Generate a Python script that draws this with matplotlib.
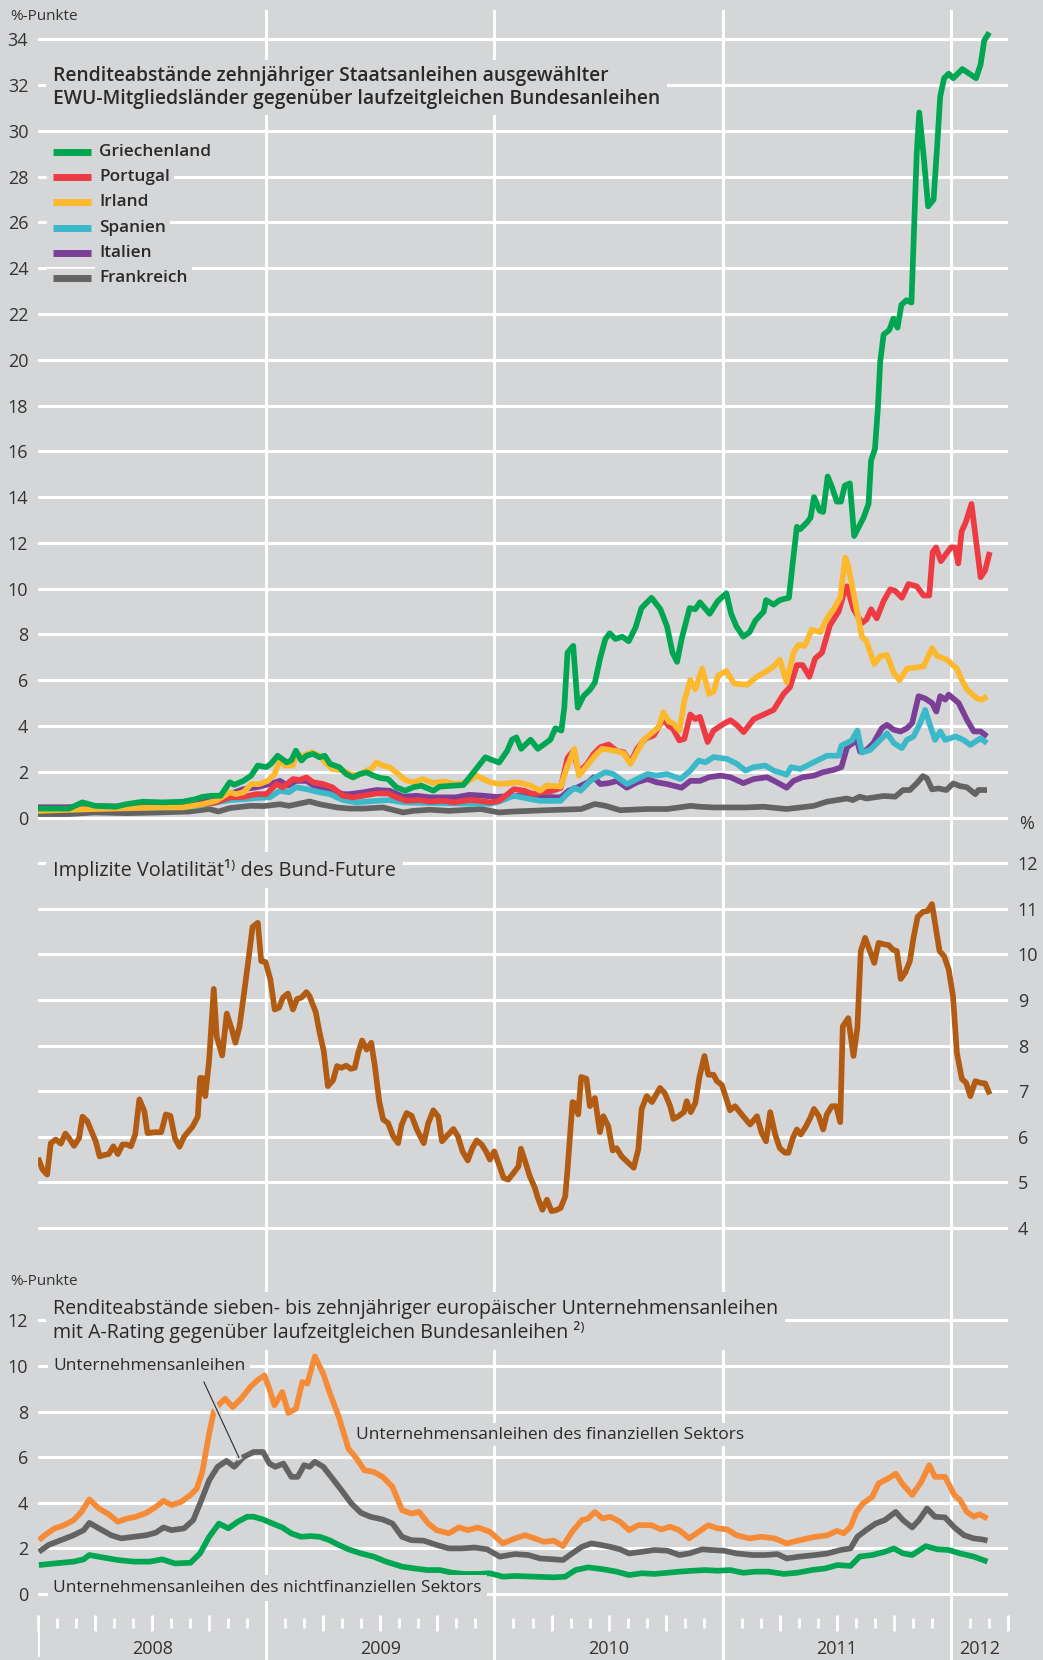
import numpy as np
import matplotlib.pyplot as plt

# ---------------- Daten ----------------
# Renditeabstaende 10j. Staatsanleihen ggü. Bundesanleihen, %-Punkte
gr_x = [2008.0, 2008.136, 2008.194, 2008.25, 2008.34, 2008.385, 2008.46, 2008.546, 2008.634, 2008.69, 2008.72,
        2008.76, 2008.80, 2008.84, 2008.86, 2008.9, 2008.934, 2008.963, 2009.0, 2009.02, 2009.05, 2009.09, 2009.11,
        2009.13, 2009.154, 2009.176, 2009.205, 2009.234, 2009.256, 2009.28, 2009.32, 2009.35, 2009.38, 2009.41,
        2009.44, 2009.47, 2009.498, 2009.534, 2009.57, 2009.608, 2009.644, 2009.68, 2009.732, 2009.76, 2009.82,
        2009.864, 2009.908, 2009.937, 2009.96, 2009.98, 2010.02, 2010.055, 2010.077, 2010.096, 2010.117, 2010.158,
        2010.19, 2010.245, 2010.267, 2010.293, 2010.306, 2010.32, 2010.345, 2010.365, 2010.39, 2010.42, 2010.44,
        2010.464, 2010.486, 2010.505, 2010.53, 2010.56, 2010.588, 2010.618, 2010.644, 2010.688, 2010.727, 2010.756,
        2010.78, 2010.80, 2010.82, 2010.855, 2010.88, 2010.90, 2010.943, 2010.978, 2011.016, 2011.037, 2011.06,
        2011.09, 2011.118, 2011.143, 2011.18, 2011.19, 2011.223, 2011.25, 2011.29, 2011.31, 2011.325, 2011.34,
        2011.37, 2011.385, 2011.40, 2011.425, 2011.44, 2011.46, 2011.48, 2011.50, 2011.518, 2011.535, 2011.557,
        2011.576, 2011.617, 2011.639, 2011.65, 2011.667, 2011.68, 2011.69, 2011.705, 2011.73, 2011.748, 2011.766,
        2011.783, 2011.805, 2011.827, 2011.84, 2011.85, 2011.861, 2011.88, 2011.90, 2011.924, 2011.94, 2011.953,
        2011.97, 2011.99, 2012.01, 2012.05, 2012.08, 2012.11, 2012.13, 2012.146, 2012.168]
gr_y = [0.39, 0.39, 0.66, 0.51, 0.47, 0.58, 0.69, 0.66, 0.69, 0.8, 0.9,
        0.95, 0.95, 1.54, 1.43, 1.6, 1.83, 2.27, 2.2, 2.34, 2.7, 2.41, 2.5,
        2.92, 2.49, 2.7, 2.78, 2.63, 2.7, 2.34, 2.2, 1.9, 1.75, 1.9,
        1.97, 1.83, 1.73, 1.68, 1.32, 1.17, 1.32, 1.39, 1.17, 1.35, 1.39,
        1.42, 1.97, 2.34, 2.63, 2.55, 2.4, 2.9, 3.4, 3.5, 3.0, 3.4,
        3.0, 3.4, 3.9, 3.8, 4.8, 7.2, 7.5, 4.8, 5.3, 5.6, 5.9,
        7.0, 7.8, 8.05, 7.8, 7.9, 7.7, 8.3, 9.15, 9.6, 9.1, 8.35,
        7.2, 6.8, 7.8, 9.15, 9.1, 9.4, 8.9, 9.45, 9.8, 8.9, 8.35,
        7.9, 8.1, 8.6, 9.0, 9.5, 9.3, 9.5, 9.6, 11.4, 12.7, 12.6,
        12.9, 13.1, 14.0, 13.4, 13.35, 14.9, 14.4, 13.8, 13.8, 14.5, 14.6,
        12.3, 13.1, 13.7, 15.6, 16.1, 17.9, 19.9, 21.1, 21.3, 21.8, 21.4,
        22.4, 22.6, 22.5, 26.1, 29.0, 30.8, 28.95, 26.7, 27.0, 29.4, 31.5,
        32.3, 32.5, 32.3, 32.7, 32.5, 32.3, 32.9, 33.95, 34.3]

pt_x = [2008.0, 2008.5, 2008.69, 2008.78, 2008.84, 2008.9, 2008.956, 2009.0, 2009.045, 2009.073, 2009.117,
        2009.146, 2009.176, 2009.205, 2009.25, 2009.29, 2009.336, 2009.38, 2009.425, 2009.483, 2009.534, 2009.57,
        2009.615, 2009.673, 2009.717, 2009.776, 2009.82, 2009.89, 2009.93, 2009.98, 2010.02, 2010.055, 2010.085,
        2010.13, 2010.17, 2010.2, 2010.245, 2010.29, 2010.32, 2010.345, 2010.37, 2010.406, 2010.435, 2010.464,
        2010.5, 2010.537, 2010.566, 2010.596, 2010.625, 2010.66, 2010.698, 2010.74, 2010.763, 2010.782, 2010.81,
        2010.832, 2010.858, 2010.88, 2010.90, 2010.934, 2010.96, 2011.005, 2011.034, 2011.063, 2011.092, 2011.136,
        2011.18, 2011.223, 2011.267, 2011.295, 2011.325, 2011.35, 2011.38, 2011.405, 2011.435, 2011.47, 2011.508,
        2011.537, 2011.544, 2011.573, 2011.61, 2011.63, 2011.65, 2011.675, 2011.705, 2011.734, 2011.756, 2011.785,
        2011.814, 2011.85, 2011.88, 2011.905, 2011.92, 2011.935, 2011.956, 2012.0, 2012.018, 2012.032, 2012.047,
        2012.065, 2012.09, 2012.11, 2012.13, 2012.15, 2012.17]
pt_y = [0.32, 0.45, 0.54, 0.66, 0.88, 0.9, 1.02, 1.02, 1.46, 1.32, 1.68,
        1.64, 1.75, 1.54, 1.46, 1.32, 0.95, 0.88, 0.95, 1.05, 1.05, 0.88,
        0.73, 0.76, 0.69, 0.73, 0.66, 0.76, 0.73, 0.66, 0.73, 1.0, 1.24,
        1.17, 1.02, 1.1, 1.14, 1.29, 2.6, 2.9, 1.98, 2.34, 2.78, 3.07,
        3.19, 2.9, 2.85, 2.4, 3.0, 3.44, 3.59, 4.3, 4.0, 3.88, 3.37,
        3.44, 4.5, 4.3, 4.4, 3.3, 3.8, 4.1, 4.25, 4.03, 3.73, 4.3,
        4.5, 4.7, 5.4, 5.7, 6.66, 6.66, 6.15, 6.95, 7.2, 8.4, 9.0,
        10.0, 10.1, 9.1, 8.5, 8.65, 9.1, 8.7, 9.46, 9.97, 9.9, 9.6,
        10.2, 10.1, 9.7, 9.7, 11.6, 11.8, 11.2, 11.8, 11.8, 11.1, 12.5,
        12.9, 13.7, 12.1, 10.5, 10.8, 11.6]

ie_x = [2008.0, 2008.25, 2008.546, 2008.634, 2008.72, 2008.78, 2008.84, 2008.868, 2008.9, 2008.934, 2008.97,
        2009.007, 2009.037, 2009.06, 2009.08, 2009.117, 2009.13, 2009.16, 2009.2, 2009.234, 2009.264, 2009.29,
        2009.336, 2009.366, 2009.4, 2009.44, 2009.46, 2009.483, 2009.51, 2009.54, 2009.57, 2009.608, 2009.644,
        2009.688, 2009.732, 2009.776, 2009.83, 2009.878, 2009.92, 2009.95, 2009.98, 2010.026, 2010.1, 2010.158,
        2010.2, 2010.23, 2010.29, 2010.318, 2010.35, 2010.37, 2010.4, 2010.44, 2010.47, 2010.5, 2010.537,
        2010.566, 2010.596, 2010.654, 2010.69, 2010.72, 2010.74, 2010.763, 2010.785, 2010.81, 2010.832, 2010.858,
        2010.88, 2010.91, 2010.94, 2010.96, 2010.98, 2011.016, 2011.05, 2011.107, 2011.15, 2011.194, 2011.223,
        2011.25, 2011.28, 2011.31, 2011.333, 2011.36, 2011.39, 2011.428, 2011.457, 2011.486, 2011.515, 2011.537,
        2011.55, 2011.573, 2011.61, 2011.63, 2011.664, 2011.69, 2011.72, 2011.75, 2011.775, 2011.807, 2011.844,
        2011.88, 2011.917, 2011.94, 2011.982, 2012.026, 2012.048, 2012.07, 2012.114, 2012.136, 2012.158]
ie_y = [0.29, 0.37, 0.44, 0.44, 0.58, 0.73, 1.1, 1.02, 1.1, 1.46, 1.46,
        1.6, 1.9, 2.56, 2.27, 2.27, 2.7, 2.7, 2.85, 2.7, 2.34, 2.12,
        2.05, 1.9, 1.83, 2.05, 2.12, 2.41, 2.27, 2.2, 1.97, 1.64, 1.54,
        1.68, 1.5, 1.58, 1.46, 1.54, 1.83, 1.68, 1.54, 1.46, 1.54, 1.4,
        1.17, 1.4, 1.35, 2.2, 3.0, 1.83, 2.2, 2.7, 3.0, 2.96, 2.9,
        2.8, 2.34, 3.4, 3.7, 3.95, 4.6, 4.2, 4.1, 3.8, 5.1, 6.0,
        5.6, 6.5, 5.4, 5.5, 6.2, 6.4, 5.85, 5.8, 6.15, 6.4, 6.6,
        6.9, 5.9, 7.2, 7.55, 7.5, 8.2, 8.1, 8.7, 9.1, 9.6, 11.35,
        11.0, 9.8, 7.9, 7.7, 6.7, 7.05, 7.1, 6.3, 6.0, 6.5, 6.55,
        6.6, 7.4, 7.05, 6.9, 6.5, 6.0, 5.6, 5.2, 5.15, 5.3]

es_x = [2008.0, 2008.6, 2008.69, 2008.84, 2008.9, 2008.956, 2009.015, 2009.06, 2009.1, 2009.13, 2009.176,
        2009.234, 2009.28, 2009.336, 2009.395, 2009.483, 2009.54, 2009.6, 2009.717, 2009.864, 2009.98, 2010.01,
        2010.085, 2010.158, 2010.2, 2010.29, 2010.318, 2010.35, 2010.377, 2010.42, 2010.457, 2010.486, 2010.52,
        2010.58, 2010.625, 2010.67, 2010.71, 2010.756, 2010.815, 2010.858, 2010.895, 2010.924, 2010.96, 2011.02,
        2011.063, 2011.1, 2011.136, 2011.187, 2011.223, 2011.28, 2011.3, 2011.34, 2011.384, 2011.428, 2011.457,
        2011.508, 2011.52, 2011.566, 2011.59, 2011.61, 2011.646, 2011.683, 2011.72, 2011.75, 2011.785, 2011.807,
        2011.836, 2011.865, 2011.887, 2011.91, 2011.93, 2011.953, 2011.975, 2012.02, 2012.055, 2012.085, 2012.13,
        2012.158]
es_y = [0.35, 0.45, 0.5, 0.76, 0.8, 0.85, 0.88, 1.17, 1.1, 1.32, 1.24,
        1.1, 1.02, 0.76, 0.66, 0.73, 0.76, 0.66, 0.63, 0.61, 0.6, 0.66,
        0.95, 0.8, 0.73, 0.73, 1.02, 1.3, 1.17, 1.6, 1.83, 1.98, 1.9,
        1.46, 1.68, 1.9, 1.83, 1.9, 1.68, 2.05, 2.49, 2.41, 2.64, 2.56,
        2.34, 2.05, 2.2, 2.27, 2.05, 1.87, 2.2, 2.12, 2.34, 2.56, 2.7,
        2.7, 3.14, 3.37, 3.8, 2.84, 2.95, 3.32, 3.68, 3.25, 3.03, 3.39,
        3.54, 4.12, 4.7, 3.98, 3.39, 3.76, 3.39, 3.54, 3.39, 3.17, 3.46,
        3.25]

it_x = [2008.0, 2008.136, 2008.194, 2008.4, 2008.69, 2008.78, 2008.84, 2008.9, 2008.956, 2009.015, 2009.06,
        2009.095, 2009.13, 2009.176, 2009.22, 2009.28, 2009.336, 2009.366, 2009.425, 2009.483, 2009.54, 2009.6,
        2009.66, 2009.717, 2009.83, 2009.89, 2009.94, 2010.01, 2010.1, 2010.2, 2010.29, 2010.325, 2010.36,
        2010.41, 2010.435, 2010.464, 2010.5, 2010.537, 2010.58, 2010.625, 2010.67, 2010.71, 2010.756, 2010.82,
        2010.858, 2010.9, 2010.94, 2010.99, 2011.034, 2011.09, 2011.136, 2011.194, 2011.237, 2011.28, 2011.31,
        2011.35, 2011.4, 2011.44, 2011.486, 2011.52, 2011.545, 2011.588, 2011.602, 2011.63, 2011.66, 2011.697,
        2011.72, 2011.75, 2011.78, 2011.807, 2011.83, 2011.858, 2011.887, 2011.917, 2011.936, 2011.953, 2011.975,
        2011.99, 2012.034, 2012.07, 2012.1, 2012.13, 2012.158]
it_y = [0.45, 0.45, 0.5, 0.48, 0.62, 0.76, 1.02, 1.24, 1.32, 1.46, 1.6,
        1.39, 1.6, 1.6, 1.32, 1.24, 1.02, 1.02, 1.1, 1.2, 1.17, 0.91,
        0.95, 0.88, 0.88, 0.99, 0.96, 0.9, 0.95, 0.9, 0.88, 1.17, 1.3,
        1.54, 1.76, 1.46, 1.5, 1.6, 1.3, 1.54, 1.68, 1.54, 1.46, 1.3,
        1.6, 1.6, 1.76, 1.83, 1.76, 1.5, 1.68, 1.76, 1.54, 1.3, 1.6,
        1.76, 1.83, 1.98, 2.08, 2.2, 3.07, 3.37, 2.88, 2.95, 3.25, 3.9,
        4.05, 3.83, 3.76, 3.9, 4.12, 5.3, 5.2, 5.0, 4.63, 5.3, 5.15,
        5.37, 5.0, 4.27, 3.76, 3.76, 3.54]

fr_x = [2008.0, 2008.136, 2008.25, 2008.39, 2008.53, 2008.66, 2008.75, 2008.79, 2008.84, 2008.93, 2008.99,
        2009.06, 2009.1, 2009.19, 2009.234, 2009.31, 2009.366, 2009.425, 2009.51, 2009.54, 2009.6, 2009.644,
        2009.717, 2009.8, 2009.89, 2009.94, 2010.02, 2010.08, 2010.23, 2010.38, 2010.44, 2010.486, 2010.55,
        2010.67, 2010.756, 2010.86, 2010.9, 2010.96, 2011.1, 2011.18, 2011.28, 2011.4, 2011.456, 2011.544,
        2011.57, 2011.6, 2011.63, 2011.705, 2011.756, 2011.79, 2011.82, 2011.85, 2011.877, 2011.895, 2011.917,
        2011.945, 2011.98, 2012.01, 2012.04, 2012.07, 2012.107, 2012.12, 2012.158]
fr_y = [0.15, 0.15, 0.22, 0.19, 0.22, 0.26, 0.37, 0.26, 0.41, 0.51, 0.5,
        0.58, 0.51, 0.7, 0.58, 0.44, 0.39, 0.39, 0.44, 0.37, 0.22, 0.29,
        0.34, 0.29, 0.34, 0.37, 0.22, 0.26, 0.32, 0.37, 0.59, 0.51, 0.32,
        0.37, 0.37, 0.51, 0.47, 0.44, 0.44, 0.47, 0.37, 0.51, 0.69, 0.83,
        0.76, 0.91, 0.83, 0.94, 0.91, 1.2, 1.2, 1.49, 1.81, 1.71, 1.23,
        1.27, 1.2, 1.49, 1.37, 1.32, 1.02, 1.2, 1.2]

# Implizite Volatilitaet des Bund-Future, %
vol_x = [2008.0, 2008.02, 2008.04, 2008.056, 2008.078, 2008.1, 2008.12, 2008.136, 2008.158, 2008.18, 2008.195,
         2008.216, 2008.24, 2008.253, 2008.27, 2008.29, 2008.31, 2008.33, 2008.35, 2008.37, 2008.39, 2008.407,
         2008.426, 2008.444, 2008.466, 2008.48, 2008.51, 2008.54, 2008.56, 2008.58, 2008.60, 2008.62, 2008.64,
         2008.678, 2008.70, 2008.71, 2008.72, 2008.733, 2008.75, 2008.77, 2008.783, 2008.807, 2008.827, 2008.85,
         2008.865, 2008.883, 2008.905, 2008.924, 2008.94, 2008.963, 2008.978, 2008.997, 2009.018, 2009.037,
         2009.056, 2009.073, 2009.095, 2009.117, 2009.135, 2009.154, 2009.176, 2009.19, 2009.217, 2009.234,
         2009.252, 2009.27, 2009.293, 2009.31, 2009.33, 2009.35, 2009.37, 2009.388, 2009.403, 2009.42, 2009.44,
         2009.46, 2009.476, 2009.495, 2009.512, 2009.534, 2009.556, 2009.578, 2009.593, 2009.615, 2009.637,
         2009.66, 2009.69, 2009.71, 2009.732, 2009.754, 2009.77, 2009.79, 2009.82, 2009.84, 2009.86, 2009.883,
         2009.903, 2009.922, 2009.944, 2009.963, 2009.98, 2009.999, 2010.017, 2010.04, 2010.06, 2010.084,
         2010.105, 2010.116, 2010.135, 2010.155, 2010.177, 2010.19, 2010.21, 2010.23, 2010.25, 2010.27, 2010.29,
         2010.31, 2010.32, 2010.342, 2010.35, 2010.367, 2010.38, 2010.403, 2010.418, 2010.44, 2010.462, 2010.477,
         2010.498, 2010.518, 2010.535, 2010.557, 2010.58, 2010.61, 2010.63, 2010.645, 2010.667, 2010.69, 2010.725,
         2010.747, 2010.77, 2010.784, 2010.806, 2010.83, 2010.842, 2010.86, 2010.88, 2010.898, 2010.92, 2010.937,
         2010.96, 2010.974, 2010.996, 2011.015, 2011.032, 2011.054, 2011.083, 2011.12, 2011.15, 2011.171, 2011.19,
         2011.208, 2011.23, 2011.25, 2011.273, 2011.288, 2011.307, 2011.325, 2011.342, 2011.365, 2011.383, 2011.4,
         2011.42, 2011.44, 2011.456, 2011.478, 2011.497, 2011.515, 2011.526, 2011.55, 2011.573, 2011.59, 2011.605,
         2011.624, 2011.643, 2011.664, 2011.683, 2011.705, 2011.727, 2011.746, 2011.763, 2011.78, 2011.8, 2011.82,
         2011.836, 2011.854, 2011.877, 2011.898, 2011.917, 2011.93, 2011.95, 2011.97, 2011.99, 2012.009, 2012.026,
         2012.048, 2012.067, 2012.085, 2012.107, 2012.13, 2012.15, 2012.17]
vol_y = [5.54, 5.28, 5.17, 5.86, 5.94, 5.85, 6.07, 5.97, 5.8, 5.97, 6.44,
         6.34, 6.05, 5.9, 5.57, 5.6, 5.62, 5.79, 5.62, 5.83, 5.83, 5.79,
         6.05, 6.82, 6.56, 6.08, 6.1, 6.1, 6.49, 6.46, 5.97, 5.78, 6.0,
         6.23, 6.44, 7.29, 7.29, 6.89, 7.69, 9.24, 8.2, 7.78, 8.7, 8.34,
         8.06, 8.42, 9.23, 9.96, 10.6, 10.69, 9.85, 9.83, 9.45, 8.79,
         8.83, 9.05, 9.14, 8.79, 9.02, 9.05, 9.17, 9.08, 8.73, 8.28,
         7.88, 7.11, 7.24, 7.55, 7.51, 7.56, 7.49, 7.51, 7.84, 8.11, 7.91,
         8.06, 7.55, 6.78, 6.38, 6.3, 6.01, 5.86, 6.26, 6.52, 6.46,
         6.16, 5.86, 6.3, 6.58, 6.44, 5.9, 6.01, 6.17, 6.01, 5.68, 5.48,
         5.75, 5.92, 5.83, 5.68, 5.5, 5.68, 5.43, 5.1, 5.06, 5.21,
         5.35, 5.74, 5.45, 5.13, 4.88, 4.66, 4.4, 4.62, 4.37, 4.39, 4.44,
         4.69, 5.28, 6.76, 6.74, 6.49, 7.31, 7.27, 6.67, 6.85, 6.1, 6.45,
         6.24, 5.7, 5.75, 5.57, 5.46, 5.32, 5.72, 6.61, 6.89, 6.76, 7.07,
         6.95, 6.67, 6.39, 6.45, 6.54, 6.78, 6.54, 6.74, 7.31, 7.77, 7.36,
         7.36, 7.22, 7.14, 6.85, 6.58, 6.67, 6.49, 6.27, 6.45, 6.08, 5.9,
         6.54, 6.05, 5.75, 5.65, 5.65, 5.97, 6.16, 6.05, 6.23, 6.41, 6.61,
         6.46, 6.16, 6.49, 6.67, 6.67, 6.32, 8.42, 8.6, 7.77, 8.39, 10.07,
         10.36, 10.1, 9.81, 10.25, 10.22, 10.2, 10.1, 10.07, 9.46, 9.6, 9.85,
         10.36, 10.82, 10.93, 10.95, 11.1, 10.69, 10.07, 9.96, 9.67, 9.08, 7.84,
         7.27, 7.18, 6.89, 7.22, 7.18, 7.17, 6.93]

# Unternehmensanleihen mit A-Rating, %-Punkte
fin_x = [2008.004, 2008.03, 2008.073, 2008.115, 2008.156, 2008.19, 2008.225, 2008.267, 2008.31, 2008.35, 2008.39,
         2008.43, 2008.475, 2008.516, 2008.55, 2008.585, 2008.627, 2008.668, 2008.696, 2008.72, 2008.75, 2008.77,
         2008.79, 2008.82, 2008.853, 2008.89, 2008.93, 2008.964, 2008.992, 2009.014, 2009.036, 2009.07, 2009.097,
         2009.13, 2009.158, 2009.18, 2009.213, 2009.25, 2009.277, 2009.318, 2009.36, 2009.396, 2009.43, 2009.47,
         2009.51, 2009.553, 2009.595, 2009.636, 2009.67, 2009.71, 2009.747, 2009.8, 2009.844, 2009.885, 2009.927,
         2009.98, 2010.037, 2010.09, 2010.134, 2010.176, 2010.217, 2010.26, 2010.3, 2010.34, 2010.383, 2010.41,
         2010.44, 2010.474, 2010.507, 2010.55, 2010.59, 2010.63, 2010.687, 2010.73, 2010.77, 2010.81, 2010.853,
         2010.895, 2010.936, 2010.978, 2011.02, 2011.06, 2011.116, 2011.17, 2011.227, 2011.28, 2011.337, 2011.406,
         2011.46, 2011.5, 2011.53, 2011.56, 2011.586, 2011.614, 2011.655, 2011.683, 2011.725, 2011.758, 2011.786,
         2011.83, 2011.87, 2011.905, 2011.93, 2011.974, 2012.015, 2012.04, 2012.07, 2012.1, 2012.125, 2012.16]
fin_y = [2.36, 2.58, 2.88, 3.02, 3.24, 3.6, 4.15, 3.75, 3.5, 3.17, 3.31,
         3.39, 3.56, 3.82, 4.09, 3.9, 4.04, 4.34, 4.63, 5.36, 7.04, 7.99,
         8.28, 8.57, 8.2, 8.57, 9.08, 9.4, 9.59, 9.0, 8.28, 8.86, 7.94,
         8.13, 9.3, 9.23, 10.42, 9.66, 8.86, 7.77, 6.38, 5.94, 5.43, 5.36,
         5.14, 4.7, 3.68, 3.53, 3.6, 3.09, 2.8, 2.66, 2.92, 2.8, 2.92,
         2.73, 2.22, 2.44, 2.58, 2.44, 2.29, 2.34, 2.1, 2.73, 3.24, 3.31,
         3.6, 3.31, 3.39, 3.17, 2.8, 3.02, 3.02, 2.83, 2.95, 2.8, 2.44,
         2.73, 3.02, 2.88, 2.83, 2.58, 2.44, 2.51, 2.44, 2.22, 2.36, 2.51,
         2.58, 2.77, 2.66, 2.95, 3.6, 3.97, 4.26, 4.85, 5.07, 5.28, 4.85,
         4.34, 4.92, 5.65, 5.14, 5.14, 4.34, 4.12, 3.6, 3.39, 3.5, 3.31]

all_x = [2008.004, 2008.046, 2008.1, 2008.156, 2008.2, 2008.225, 2008.267, 2008.32, 2008.364, 2008.42, 2008.475,
         2008.516, 2008.55, 2008.585, 2008.64, 2008.68, 2008.71, 2008.75, 2008.787, 2008.826, 2008.86, 2008.9,
         2008.945, 2008.986, 2009.014, 2009.04, 2009.075, 2009.11, 2009.138, 2009.166, 2009.19, 2009.213, 2009.25,
         2009.29, 2009.33, 2009.373, 2009.415, 2009.456, 2009.51, 2009.553, 2009.595, 2009.636, 2009.69, 2009.747,
         2009.8, 2009.857, 2009.913, 2009.968, 2010.023, 2010.09, 2010.148, 2010.2, 2010.26, 2010.3, 2010.34,
         2010.383, 2010.425, 2010.466, 2010.507, 2010.55, 2010.59, 2010.646, 2010.7, 2010.757, 2010.81, 2010.853,
         2010.91, 2010.95, 2011.005, 2011.06, 2011.13, 2011.185, 2011.24, 2011.28, 2011.337, 2011.406, 2011.46,
         2011.517, 2011.56, 2011.59, 2011.628, 2011.67, 2011.71, 2011.758, 2011.79, 2011.83, 2011.86, 2011.895,
         2011.93, 2011.974, 2012.015, 2012.057, 2012.1, 2012.14, 2012.16]
all_y = [1.85, 2.15, 2.36, 2.58, 2.8, 3.12, 2.88, 2.58, 2.44, 2.51, 2.58,
         2.69, 2.92, 2.8, 2.88, 3.24, 3.97, 4.99, 5.58, 5.84, 5.58, 6.01,
         6.23, 6.23, 5.72, 5.58, 5.72, 5.14, 5.14, 5.65, 5.58, 5.8, 5.58,
         5.07, 4.55, 3.97, 3.56, 3.39, 3.27, 3.09, 2.51, 2.36, 2.34, 2.15,
         2.0, 2.0, 2.04, 1.96, 1.64, 1.75, 1.71, 1.56, 1.52, 1.49, 1.78,
         2.07, 2.22, 2.15, 2.07, 1.96, 1.78, 1.85, 1.93, 1.9, 1.71, 1.78,
         1.96, 1.93, 1.9, 1.78, 1.71, 1.71, 1.75, 1.56, 1.64, 1.71, 1.78,
         1.93, 2.0, 2.51, 2.8, 3.09, 3.24, 3.6, 3.24, 2.92, 3.24, 3.75,
         3.39, 3.36, 2.92, 2.58, 2.44, 2.39, 2.34]

nfin_x = [2008.004, 2008.073, 2008.156, 2008.2, 2008.225, 2008.28, 2008.35, 2008.42, 2008.49, 2008.544, 2008.6,
          2008.668, 2008.71, 2008.75, 2008.793, 2008.834, 2008.875, 2008.917, 2008.945, 2008.986, 2009.028, 2009.07,
          2009.11, 2009.152, 2009.194, 2009.235, 2009.277, 2009.318, 2009.36, 2009.415, 2009.47, 2009.525, 2009.595,
          2009.65, 2009.705, 2009.76, 2009.816, 2009.87, 2009.927, 2009.98, 2010.037, 2010.09, 2010.176, 2010.26,
          2010.31, 2010.355, 2010.41, 2010.48, 2010.535, 2010.59, 2010.646, 2010.7, 2010.757, 2010.81, 2010.867,
          2010.92, 2010.978, 2011.033, 2011.09, 2011.144, 2011.2, 2011.268, 2011.324, 2011.39, 2011.448, 2011.503,
          2011.56, 2011.6, 2011.655, 2011.71, 2011.75, 2011.79, 2011.83, 2011.89, 2011.94, 2011.99, 2012.04,
          2012.1, 2012.16]
nfin_y = [1.27, 1.34, 1.42, 1.52, 1.71, 1.61, 1.49, 1.42, 1.42, 1.52, 1.34,
          1.37, 1.78, 2.51, 3.09, 2.88, 3.17, 3.39, 3.39, 3.27, 3.09, 2.92,
          2.66, 2.51, 2.54, 2.51, 2.36, 2.15, 1.96, 1.78, 1.64, 1.42, 1.2,
          1.12, 1.05, 1.05, 0.93, 0.88, 0.88, 0.91, 0.76, 0.79, 0.76, 0.73,
          0.76, 1.05, 1.17, 1.08, 0.98, 0.83, 0.91, 0.88, 0.93, 0.98, 1.02,
          1.05, 1.02, 1.05, 0.93, 0.98, 0.98, 0.88, 0.93, 1.05, 1.12, 1.27,
          1.23, 1.64, 1.71, 1.85, 2.0, 1.78, 1.71, 2.1, 1.96, 1.93, 1.78,
          1.64, 1.42]

laender = ['Griechenland', 'Portugal', 'Irland', 'Spanien', 'Italien', 'Frankreich']
jahre = [2008, 2009, 2010, 2011, 2012]

# ---------------- Farben / Schrift ----------------
BG = '#d5d6d8'
TXT = '#2a2a2a'
C_GR, C_PT, C_IE = '#00a651', '#ee3b43', '#fdb92e'
C_ES, C_IT, C_FR = '#3bb9c9', '#7b3f98', '#636363'
C_VOL, C_FIN = '#b25c13', '#f58b36'
farben = [C_GR, C_PT, C_IE, C_ES, C_IT, C_FR]
LW = 4.1

plt.rcParams['font.family'] = ['Open Sans', 'DejaVu Sans']
plt.rcParams['text.color'] = TXT

W, H = 1043, 1660
X0, XW = 38, 970          # linker Rand und Breite der Zeichenflaeche in Pixel
XLIM = (2008, 2012.25)


def rect(top, bottom):
    # Pixelzeilen -> Achsenrechteck in Figurenkoordinaten
    return [X0 / W, 1 - bottom / H, XW / W, (bottom - top) / H]


fig = plt.figure(figsize=(W / 100, H / 100), dpi=100, facecolor=BG)

# Hintergrund mit den Jahreslinien ueber die ganze Hoehe
bg = fig.add_axes(rect(10, 1660))
bg.set_xlim(XLIM)
bg.axis('off')
for j in jahre[1:]:
    bg.axvline(j, color='white', lw=2.2)


def panel(top, bottom, ylim, yticks, right=False):
    ax = fig.add_axes(rect(top, bottom))
    ax.set_facecolor('none')
    ax.set_xlim(XLIM)
    ax.set_ylim(ylim)
    ax.set_yticks(yticks)
    ax.grid(axis='y', color='white', lw=2.2)
    ax.set_axisbelow(True)
    for s in ax.spines.values():
        s.set_visible(False)
    ax.tick_params(axis='x', bottom=False, labelbottom=False)
    ax.tick_params(axis='y', length=0, labelsize=13, labelcolor='#333333', pad=7)
    if right:
        ax.yaxis.tick_right()
    return ax


box = dict(fc=BG, ec='none', boxstyle='square,pad=0.35')

# ---------------- oben: Staatsanleihen ----------------
ax1 = panel(10, 830, (-0.546, 35.28), np.arange(0, 35, 2))
serien = [(fr_x, fr_y, C_FR), (it_x, it_y, C_IT), (es_x, es_y, C_ES),
          (pt_x, pt_y, C_PT), (ie_x, ie_y, C_IE), (gr_x, gr_y, C_GR)]
for xs, ys, c in serien:
    ax1.plot(xs, ys, color=c, lw=LW, solid_capstyle='butt')

ax1.text(0.0155, 0.9055, 'Renditeabstände zehnjähriger Staatsanleihen ausgewählter\n'
         'EWU-Mitgliedsländer gegenüber laufzeitgleichen Bundesanleihen',
         transform=ax1.transAxes, va='center', fontsize=13.9, weight='semibold',
         linespacing=1.15, bbox=box, zorder=5)

# Legende
for i, (name, c) in enumerate(zip(laender, farben)):
    yy = (830 - (152 + 25.2 * i)) / 820
    ax1.plot([0.008, 0.064], [yy, yy], transform=ax1.transAxes, color=BG, lw=14,
             solid_capstyle='butt', zorder=5)
    ax1.plot([0.0155, 0.0547], [yy, yy], transform=ax1.transAxes, color=c, lw=5,
             solid_capstyle='butt', zorder=6)
    ax1.text(0.0630, yy, name, transform=ax1.transAxes, va='center', fontsize=12.4,
             weight='semibold', bbox=dict(fc=BG, ec='none', boxstyle='square,pad=0.25'), zorder=6)

# ---------------- Mitte: Volatilitaet ----------------
ax2 = panel(830, 1250, (3.518, 12.724), np.arange(4, 13, 1), right=True)
ax2.plot(vol_x, vol_y, color=C_VOL, lw=LW, solid_capstyle='butt')
ax2.text(0.0155, 0.905, 'Implizite Volatilität¹⁾ des Bund-Future', transform=ax2.transAxes,
         va='center', fontsize=14.3, bbox=box, zorder=5)

# ---------------- unten: Unternehmensanleihen ----------------
ax3 = panel(1250, 1605, (-0.483, 15.093), np.arange(0, 13, 2))
ax3.plot(nfin_x, nfin_y, color=C_GR, lw=LW, solid_capstyle='butt')
ax3.plot(all_x, all_y, color=C_FR, lw=LW, solid_capstyle='butt')
ax3.plot(fin_x, fin_y, color=C_FIN, lw=LW, solid_capstyle='butt')

ax3.text(0.0155, 0.80, 'Renditeabstände sieben- bis zehnjähriger europäischer Unternehmensanleihen\n'
         'mit A-Rating gegenüber laufzeitgleichen Bundesanleihen ²⁾',
         transform=ax3.transAxes, va='center', fontsize=14.1, linespacing=1.1, bbox=box, zorder=5)
ax3.text(0.0155, 0.673, 'Unternehmensanleihen', transform=ax3.transAxes, va='center',
         fontsize=12.5, weight='medium', bbox=dict(fc=BG, ec='none', boxstyle='square,pad=0.3'), zorder=5)
ax3.text(0.328, 0.479, 'Unternehmensanleihen des finanziellen Sektors', transform=ax3.transAxes,
         va='center', fontsize=12.5, weight='medium',
         bbox=dict(fc=BG, ec='none', boxstyle='square,pad=0.2'), zorder=5)
ax3.text(0.0155, 0.048, 'Unternehmensanleihen des nichtfinanziellen Sektors', transform=ax3.transAxes,
         va='center', fontsize=12.5, weight='medium',
         bbox=dict(fc=BG, ec='none', boxstyle='square,pad=0.3'), zorder=5)
# Hinweislinie mit Freistellung
ax3.plot([2008.727, 2008.88], [9.3, 6.0], color=BG, lw=4, zorder=6)
ax3.plot([2008.727, 2008.88], [9.3, 6.0], color=TXT, lw=0.8, zorder=7)

# ---------------- Zeitachse ----------------
ax4 = fig.add_axes(rect(1605, 1660))
ax4.set_facecolor('none')
ax4.set_xlim(XLIM)
ax4.set_ylim(0, 1)
for s in ['top', 'left', 'right']:
    ax4.spines[s].set_visible(False)
ax4.spines['bottom'].set_position(('axes', 0.673))
ax4.spines['bottom'].set_visible(False)
ax4.set_xticks(np.arange(2008, 2012.26, 0.25))
ax4.set_xticks(np.arange(2008, 2012.26, 1 / 12), minor=True)
ax4.tick_params(axis='x', which='major', direction='inout', length=11, width=2, color='white',
                labelbottom=False)
ax4.tick_params(axis='x', which='minor', direction='inout', length=6.5, width=2, color='white')
ax4.set_yticks([])
ax4.axvline(2008, 0.09, 0.76, color='white', lw=2)
for j in jahre:
    mitte = j + 0.5 if j < 2012 else j + 0.125
    ax4.text(mitte, 0.2, str(j), ha='center', va='center', fontsize=13, color='#333333')

# Einheiten
fig.text(10 / W, 1 - 17 / H, '%-Punkte', va='center', fontsize=11, color='#333333')
fig.text(10 / W, 1 - 1281 / H, '%-Punkte', va='center', fontsize=11, color='#333333')
fig.text(1019 / W, 1 - 824 / H, '%', va='center', fontsize=13, color='#333333')

fig.savefig('out.png', dpi=100, facecolor=BG)
